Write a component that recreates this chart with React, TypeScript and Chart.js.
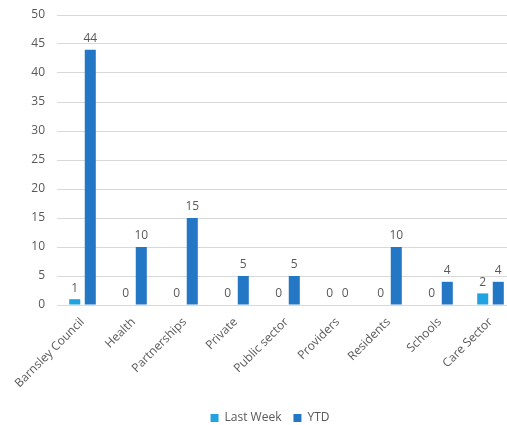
import React, { useEffect, useRef } from "react";
import { Chart, registerables } from "chart.js";

Chart.register(...registerables);

const categories = [
  "Barnsley Council",
  "Health",
  "Partnerships",
  "Private",
  "Public sector",
  "Providers",
  "Residents",
  "Schools",
  "Care Sector",
];
const lastWeek = [1, 0, 0, 0, 0, 0, 0, 0, 2];
const ytd = [44, 10, 15, 5, 5, 0, 10, 4, 4];

const TEXT = "#595959";
const FONT = "'Open Sans', 'Noto Sans', sans-serif";

// Draws each bar's value just above its top, including zeros.
const valueLabels = {
  id: "valueLabels",
  afterDatasetsDraw(chart: any) {
    const ctx = chart.ctx;
    ctx.save();
    ctx.fillStyle = TEXT;
    ctx.font = `12px ${FONT}`;
    ctx.textAlign = "center";
    ctx.textBaseline = "bottom";
    chart.data.datasets.forEach((ds: any, di: number) => {
      const meta = chart.getDatasetMeta(di);
      meta.data.forEach((bar: any, i: number) => {
        ctx.fillText(String(ds.data[i]), bar.x, bar.y - 5);
      });
    });
    ctx.restore();
  },
};

export default function App() {
  const ref = useRef<HTMLCanvasElement | null>(null);

  useEffect(() => {
    if (!ref.current) return;
    const chart = new Chart(ref.current, {
      type: "bar",
      data: {
        labels: categories,
        datasets: [
          {
            label: "Last Week",
            data: lastWeek,
            backgroundColor: "#20a3e0",
            categoryPercentage: 0.61,
            barPercentage: 0.71,
          },
          {
            label: "YTD",
            data: ytd,
            backgroundColor: "#2477c4",
            categoryPercentage: 0.61,
            barPercentage: 0.71,
          },
        ],
      },
      options: {
        responsive: false,
        animation: false,
        layout: { padding: { top: 15, left: 24, right: 24, bottom: 0 } },
        plugins: {
          tooltip: { enabled: false },
          legend: {
            position: "bottom",
            labels: {
              boxWidth: 8,
              boxHeight: 8,
              padding: 12,
              color: TEXT,
              font: { family: FONT, size: 12 },
            },
          },
        },
        scales: {
          x: {
            grid: { display: false },
            border: { color: "#d9d9d9" },
            ticks: {
              color: TEXT,
              font: { family: FONT, size: 12 },
              minRotation: 45,
              maxRotation: 45,
              autoSkip: false,
              padding: 2,
            },
            afterFit(scale: any) {
              scale.height = 95;
            },
          },
          y: {
            min: 0,
            max: 50,
            grid: { color: "#d9d9d9", drawTicks: false },
            border: { display: false },
            ticks: {
              stepSize: 5,
              color: TEXT,
              padding: 12,
              font: { family: FONT, size: 12 },
            },
            afterFit(scale: any) {
              scale.width = 33;
              scale.paddingTop = 0;
              scale.paddingBottom = 0;
            },
          },
        },
      },
      plugins: [valueLabels],
    });
    return () => chart.destroy();
  }, []);

  return (
    <div
      style={{
        position: "fixed",
        left: 0,
        top: 0,
        width: 507,
        height: 425,
        overflow: "hidden",
        background: "#fff",
      }}
    >
      <canvas ref={ref} width={540} height={434} style={{ display: "block" }} />
    </div>
  );
}
